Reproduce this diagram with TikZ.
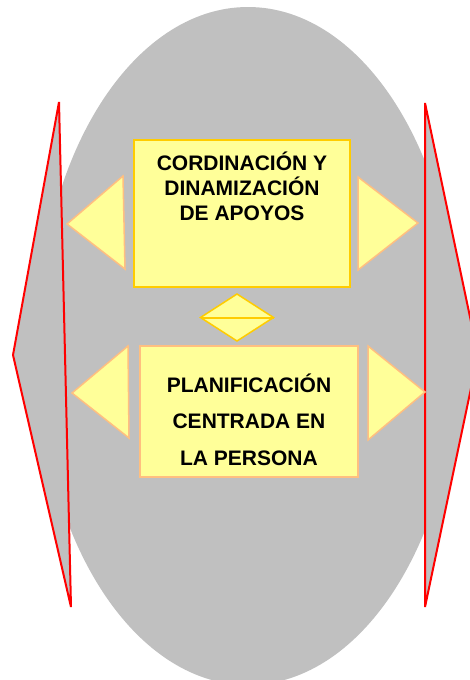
\documentclass[tikz,border=0pt]{standalone}
\usepackage{fontspec}
\setmainfont{Liberation Sans}
\usetikzlibrary{shapes.geometric}
\definecolor{ovalgray}{HTML}{C0C0C0}
\definecolor{paleyellow}{HTML}{FFFF99}
\definecolor{goldline}{HTML}{FFCC00}
\definecolor{tanline}{HTML}{FFBF80}
\begin{document}
\begin{tikzpicture}[x=1pt,y=-1pt,
    box/.style={draw,rectangle,fill=paleyellow,line width=1.5pt,inner sep=5pt,outer sep=0pt},
    tri/.style={draw=tanline,fill=paleyellow,line width=1.5pt},
    wing/.style={draw=red,fill=ovalgray,line width=2pt,line join=bevel}]
    \useasboundingbox (0,0) rectangle (470,680);
    \clip (0,0) rectangle (470,680);
    % background oval
    \fill[ovalgray] (248,346) ellipse [x radius=211, y radius=339];
    % red side wings
    \draw[wing] (59,102) -- (13,355) -- (71,607) -- cycle;
    \draw[wing] (425,103) -- (478,355) -- (425,607) -- cycle;
    % yellow pointers
    \draw[tri] (123,176) -- (67,224) -- (125,269) -- cycle;
    \draw[tri] (358,177) -- (418,223) -- (358,270) -- cycle;
    \draw[tri] (128,346) -- (72,393) -- (129,438) -- cycle;
    \draw[tri] (368,346) -- (425,392) -- (368,440) -- cycle;
    \node[box,draw=goldline,minimum width=216pt,minimum height=147pt] (cord) at (242,213.5) {
      \begin{minipage}[c][137pt][t]{206pt}
        \centering\fontsize{21pt}{25pt}\selectfont\bfseries
        \rule{0pt}{25pt}CORDINACIÓN Y\\
        DINAMIZACIÓN\\
        DE APOYOS\par
      \end{minipage}
    };
    \node[box,draw=tanline,minimum width=218pt,minimum height=131pt] (plan) at (249,411.5) {
      \begin{minipage}[c][121pt][t]{208pt}
        \centering\fontsize{21pt}{36.5pt}\selectfont\bfseries
        \rule{0pt}{41pt}PLANIFICACIÓN\\
        CENTRADA EN\\
        LA PERSONA\par
      \end{minipage}
    };
    \node[diamond,draw=goldline,fill=paleyellow,line width=1.5pt,inner sep=0pt,outer sep=0pt,
      minimum width=73pt,minimum height=47pt] (link) at (237,317.5) {};
    \draw[goldline,line width=2pt] (link.west) -- (link.east);
\end{tikzpicture}
\end{document}
